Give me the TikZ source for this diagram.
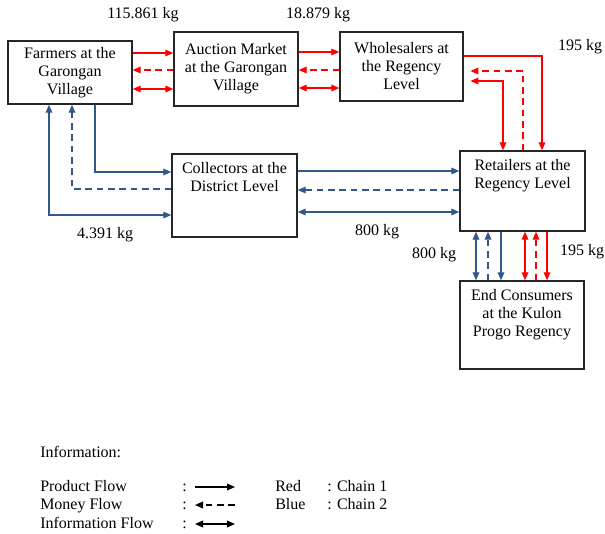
\documentclass[tikz,border=0pt]{standalone}
\usepackage{fontspec}
\setmainfont{Liberation Serif}
\usetikzlibrary{positioning,arrows.meta}
\definecolor{ChainRed}{RGB}{255,0,0}
\definecolor{ChainBlue}{RGB}{50,86,142}

\begin{document}
\begin{tikzpicture}[x=0.75pt, y=-0.75pt,
  box/.style={draw=black!85, line width=1.1pt, align=center, inner sep=0pt, font=\fontsize{12}{13.5}\selectfont},
  txt/.style={align=center, inner sep=0pt, font=\fontsize{12}{13.5}\selectfont},
  leg/.style={txt, anchor=base west},
  prod/.style={line width=1pt, -{Triangle[length=6pt,width=5pt]}},
  money/.style={line width=1pt, dash pattern=on 5pt off 3.5pt, -{Triangle[length=6pt,width=5pt]}},
  info/.style={line width=1pt, {Triangle[length=6pt,width=5pt]}-{Triangle[length=6pt,width=5pt]}}]
\useasboundingbox (0,0) rectangle (605,533);
% actors
\node[box, minimum width=124*0.75pt, minimum height=63*0.75pt] (farm)  at (70,72.5)   {Farmers at the\\Garongan\\Village};
\node[box, minimum width=124*0.75pt, minimum height=74*0.75pt] (auct)  at (236,69)    {Auction Market\\at the Garongan\\Village};
\node[box, minimum width=123*0.75pt, minimum height=69*0.75pt] (whole) at (401.5,66.5) {Wholesalers at\\the Regency\\Level};
\node[box, minimum width=125*0.75pt, minimum height=83*0.75pt] (coll)  at (234.5,195.5) {};
\node[box, minimum width=125*0.75pt, minimum height=80*0.75pt] (ret)   at (522.5,191) {};
\node[box, minimum width=124*0.75pt, minimum height=88*0.75pt] (cons)  at (522,325)   {};
\node[txt, below=6.75pt of coll.north] (coll-t) {Collectors at the\\District Level};
\node[txt, below=6.75pt of ret.north]  (ret-t)  {Retailers at the\\Regency Level};
\node[txt, below=6.75pt of cons.north] (cons-t) {End Consumers\\at the Kulon\\Progo Regency};
% chain 1 (red)
\draw[prod, ChainRed]  (farm.east |- 0,53) -- (auct.west |- 0,53);
\draw[money, ChainRed] (auct.west |- 0,70) -- (farm.east |- 0,70);
\draw[info, ChainRed]  (farm.east |- 0,89) -- (auct.west |- 0,89);
\draw[prod, ChainRed]  (auct.east |- 0,52) -- (whole.west |- 0,52);
\draw[money, ChainRed] (whole.west |- 0,70) -- (auct.east |- 0,70);
\draw[info, ChainRed]  (auct.east |- 0,88) -- (whole.west |- 0,88);
\draw[prod, ChainRed]  (whole.east |- 0,56) -| (ret.north -| 542,0);
\draw[money, ChainRed, shorten >=5pt] (ret.north -| 523,0) |- (whole.east |- 0,71);
\draw[info, ChainRed, shorten <=5pt]  (whole.east |- 0,81) -| (ret.north -| 503,0);
\draw[info, ChainRed]  (ret.south -| 525,0) -- (cons.north -| 525,0);
\draw[money, ChainRed] (cons.north -| 536,0) -- (ret.south -| 536,0);
\draw[prod, ChainRed]  (ret.south -| 547,0) -- (cons.north -| 547,0);
% chain 2 (blue)
\draw[prod, ChainBlue]  (farm.south -| 95,0) |- (coll.west |- 0,172);
\draw[money, ChainBlue] (coll.west |- 0,189) -| (farm.south -| 72,0);
\draw[info, ChainBlue]  (farm.south -| 49,0) |- (coll.west |- 0,215);
\draw[prod, ChainBlue]  (coll.east |- 0,171) -- (ret.west |- 0,171);
\draw[money, ChainBlue] (ret.west |- 0,190) -- (coll.east |- 0,190);
\draw[info, ChainBlue]  (coll.east |- 0,212) -- (ret.west |- 0,212);
\draw[info, ChainBlue]  (ret.south -| 476,0) -- (cons.north -| 476,0);
\draw[money, ChainBlue] (cons.north -| 488,0) -- (ret.south -| 488,0);
\draw[prod, ChainBlue]  (ret.south -| 501,0) -- (cons.north -| 501,0);
% volumes
\node[txt] (kg-fa) at (143,15)  {115.861 kg};
\node[txt] (kg-aw) at (318,15)  {18.879 kg};
\node[txt] (kg-wr) at (580,47)  {195 kg};
\node[txt] (kg-fc) at (105,235) {4.391 kg};
\node[txt] (kg-cr) at (377,232) {800 kg};
\node[txt] (kg-rb) at (434,255) {800 kg};
\node[txt] (kg-rr) at (582,252) {195 kg};
% legend
\node[leg] (info-h) at (40,457.5) {Information:};
\node[leg] (leg-p)  at (40,491.5) {Product Flow};
\node[leg] (leg-m)  at (40,509.5) {Money Flow};
\node[leg] (leg-i)  at (40,528.5) {Information Flow};
\node[leg] (col-p)  at (182,491.5) {:};
\node[leg] (col-m)  at (182,509.5) {:};
\node[leg] (col-i)  at (182,528.5) {:};
\coordinate (lp-a) at (195,487); \coordinate (lp-b) at (235,487);
\coordinate (lm-a) at (195,505); \coordinate (lm-b) at (235,505);
\coordinate (li-a) at (195,524); \coordinate (li-b) at (235,524);
\draw[prod]  (lp-a) -- (lp-b);
\draw[money] (lm-b) -- (lm-a);
\draw[info]  (li-a) -- (li-b);
\node[leg] (red)  at (275,491.5) {Red};
\node[leg] (blue) at (275,509.5) {Blue};
\node[leg] (ch1)  at (327,491.5) {: Chain 1};
\node[leg] (ch2)  at (327,509.5) {: Chain 2};
\end{tikzpicture}
\end{document}
